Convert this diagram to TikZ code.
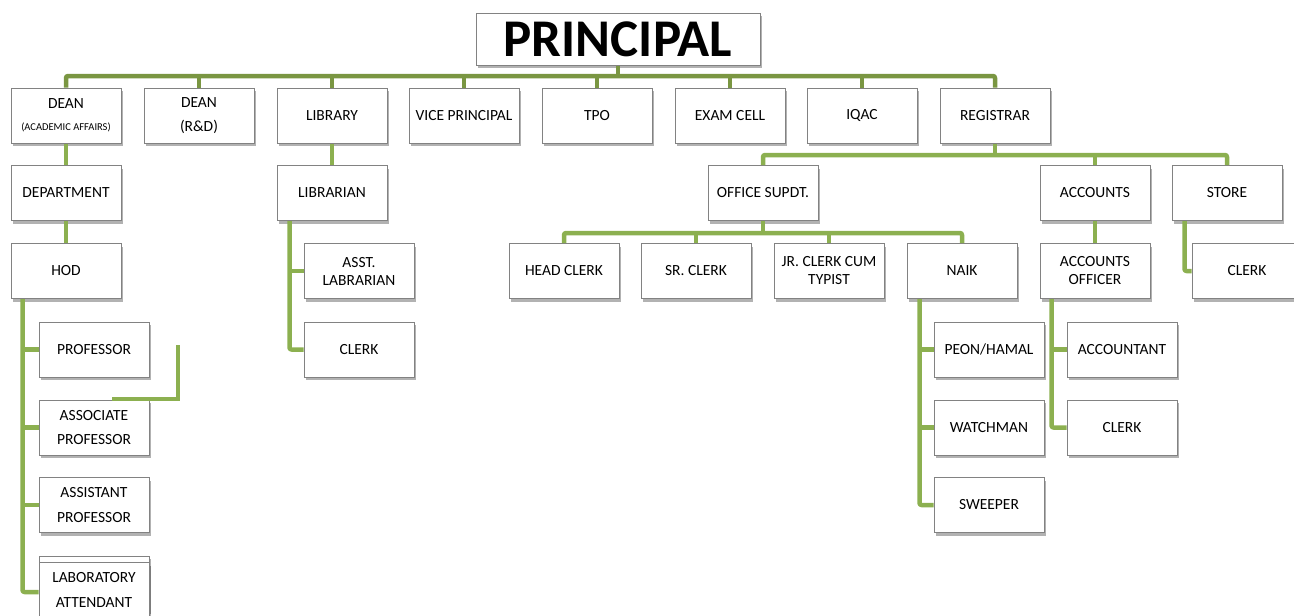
\documentclass[tikz,border=0pt]{standalone}
\usepackage{fontspec}
\setmainfont{Carlito}
\usetikzlibrary{shadows}
\definecolor{topgreen}{RGB}{122,150,66}
\definecolor{lowgreen}{RGB}{140,176,80}
\definecolor{boxline}{RGB}{130,130,130}
\tikzset{
  box/.style={draw=boxline, line width=1pt, fill=white, minimum width=110pt, minimum height=55pt,
    inner sep=1pt, align=center, font=\fontsize{15.5}{24.5}\selectfont,
    drop shadow={shadow xshift=1.5pt, shadow yshift=-3pt, opacity=0.3, fill=black}},
  conn/.style={draw=lowgreen, line width=4.5pt, line join=round, rounded corners=2pt},
  topconn/.style={draw=topgreen, line width=4.5pt, line join=round, rounded corners=2pt},
}
\begin{document}
\begin{tikzpicture}[x=1pt,y=-1pt]
\useasboundingbox (0,0) rectangle (1294,616);
\coordinate (bus1) at (0,76);
\coordinate (rbus) at (0,155);
\coordinate (obus) at (0,233);
% principal
\node[box, minimum width=284pt, minimum height=52pt, font=\fontsize{53}{56}\selectfont\bfseries] (principal) at (618,39) {PRINCIPAL};
% row 1
\node[box] (deanA) at (66,115.5) {DEAN\\[-2pt]{\fontsize{10.5}{12}\selectfont (ACADEMIC AFFAIRS)}};
\node[box] (deanB) at (199,115.5) {DEAN\\(R\&D)};
\node[box] (library) at (332,115.5) {LIBRARY};
\node[box] (vp) at (464,115.5) {VICE PRINCIPAL};
\node[box] (tpo) at (597,115.5) {TPO};
\node[box] (exam) at (730,115.5) {EXAM CELL};
\node[box] (iqac) at (862,115.5) {IQAC};
\node[box] (registrar) at (995,115.5) {REGISTRAR};
% row 2
\node[box] (dept) at (66,193) {DEPARTMENT};
\node[box] (librarian) at (332,193) {LIBRARIAN};
\node[box] (osupdt) at (763,193) {OFFICE SUPDT.};
\node[box] (accounts) at (1095,193) {ACCOUNTS};
\node[box] (store) at (1227,193) {STORE};
% row 3
\node[box] (hod) at (66,271) {HOD};
\node[box, font=\fontsize{15.5}{18}\selectfont] (asstlib) at (359,271) {ASST.\\LABRARIAN};
\node[box] (headclerk) at (564,271) {HEAD CLERK};
\node[box] (srclerk) at (696,271) {SR. CLERK};
\node[box, font=\fontsize{15.5}{18}\selectfont] (jrclerk) at (829,271) {JR. CLERK CUM\\TYPIST};
\node[box] (naik) at (962,271) {NAIK};
\node[box, font=\fontsize{15.5}{18}\selectfont] (aofficer) at (1095,271) {ACCOUNTS\\OFFICER};
\node[box] (storeclerk) at (1247,271) {CLERK};
% row 4
\node[box] (prof) at (94,349.5) {PROFESSOR};
\node[box] (libclerk) at (359,349.5) {CLERK};
\node[box] (peon) at (989,349.5) {PEON/HAMAL};
\node[box] (accountant) at (1122,349.5) {ACCOUNTANT};
% row 5
\node[box] (assoc) at (94,427.5) {ASSOCIATE\\PROFESSOR};
\node[box] (watchman) at (989,427.5) {WATCHMAN};
\node[box] (accclerk) at (1122,427.5) {CLERK};
% row 6
\node[box] (asst) at (94,505) {ASSISTANT\\PROFESSOR};
\node[box] (sweeper) at (989,505) {SWEEPER};
% row 7
\node[box] (labback) at (94,583.5) {};
\node[box] (lab) at (94,590) {LABORATORY\\ATTENDANT};
% stray bracket
\coordinate (s1) at (178,345);
\coordinate (s2) at (178,399);
\coordinate (s3) at (112,399);
\draw[conn, rounded corners=0pt, line join=miter] (s1) -- (s2) -- (s3);
% top bus
\draw[topconn] (deanA.north) -- (deanA.north |- bus1) -- (registrar.north |- bus1) -- (registrar.north);
\draw[topconn] (principal.south) -- (principal.south |- bus1);
\foreach \n in {deanB,library,vp,tpo,exam,iqac} \draw[topconn] (\n.north) -- (\n.north |- bus1);
% dean academic chain
\draw[conn] (deanA.south) -- (dept.north);
\draw[conn] (dept.south) -- (hod.north);
\draw[conn] ([xshift=12pt]hod.south west) |- ([yshift=-2pt]lab.west);
\foreach \n in {prof,assoc,asst} \draw[conn] (\n.west) -- ++(-16,0);
% library chain
\draw[conn] (library.south) -- (librarian.north);
\draw[conn] ([xshift=13pt]librarian.south west) |- (libclerk.west);
\draw[conn] (asstlib.west) -- ++(-14,0);
% registrar
\draw[conn] (osupdt.north) -- (osupdt.north |- rbus) -- (store.north |- rbus) -- (store.north);
\draw[conn] (registrar.south) -- (registrar.south |- rbus);
\draw[conn] (accounts.north) -- (accounts.north |- rbus);
% office supdt
\draw[conn] (headclerk.north) -- (headclerk.north |- obus) -- (naik.north |- obus) -- (naik.north);
\draw[conn] (osupdt.south) -- (osupdt.south |- obus);
\foreach \n in {srclerk,jrclerk} \draw[conn] (\n.north) -- (\n.north |- obus);
% naik
\draw[conn] ([xshift=13pt]naik.south west) |- (sweeper.west);
\foreach \n in {peon,watchman} \draw[conn] (\n.west) -- ++(-14,0);
% accounts
\draw[conn] (accounts.south) -- (aofficer.north);
\draw[conn] ([xshift=12pt]aofficer.south west) |- (accclerk.west);
\draw[conn] (accountant.west) -- ++(-15,0);
% store
\draw[conn] ([xshift=13pt]store.south west) |- (storeclerk.west);
\end{tikzpicture}
\end{document}
